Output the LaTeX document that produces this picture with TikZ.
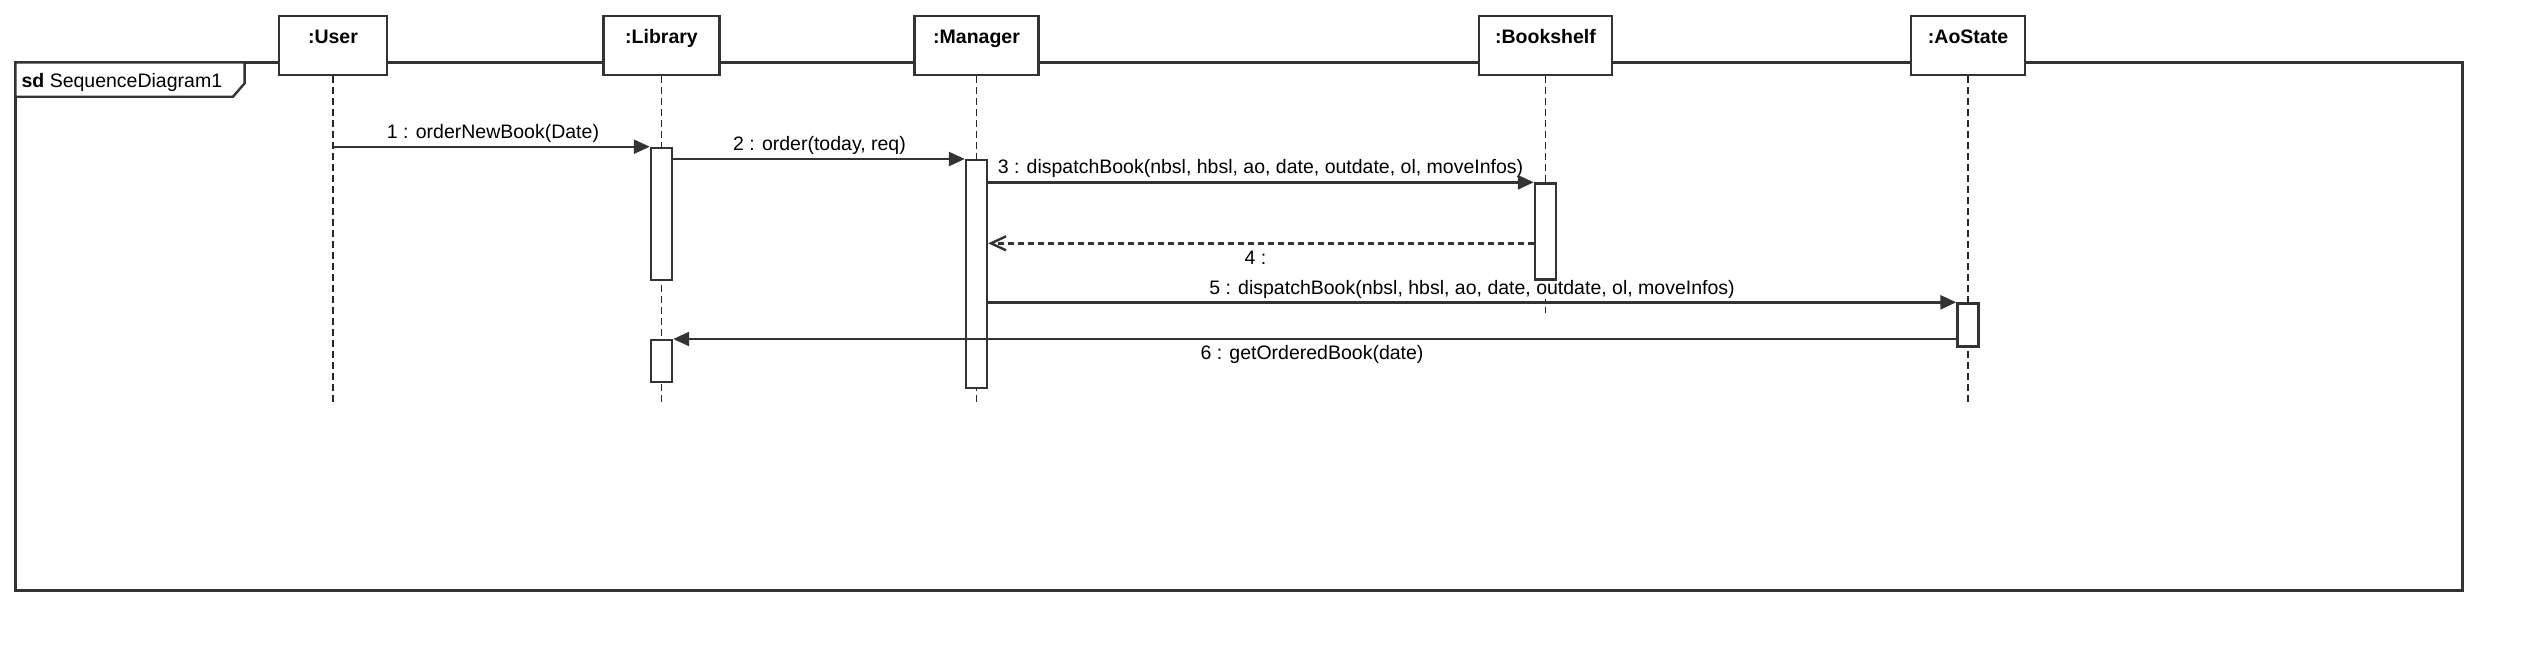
\documentclass[tikz,border=0pt]{standalone}
\usepackage{fontspec}
\setmainfont{Liberation Sans}
\usetikzlibrary{arrows.meta}
\begin{document}
\begin{tikzpicture}[x=1pt,y=-1pt,
  every node/.style={font=\fontsize{19.5}{23}\selectfont},
  ln/.style={draw=black!80, line width=2.4pt},
  headbox/.style={ln, fill=white, inner xsep=0pt, inner ysep=0pt, text height=27pt, text depth=32pt, font=\fontsize{19.5}{23}\selectfont\bfseries, anchor=north},
  life/.style={draw=black!85, line width=1.8pt, dash pattern=on 7pt off 4pt},
  actbox/.style={ln, fill=white, minimum width=21pt, inner sep=0pt, anchor=north},
  msg/.style={ln, -{Triangle[length=16pt,width=14pt]}},
  retmsg/.style={ln, dash pattern=on 6pt off 4pt, -{Straight Barb[length=15pt,width=14pt]}},
  lbl/.style={anchor=base, fill=white, inner xsep=2pt, inner ysep=1pt}
]
\useasboundingbox (0,0) rectangle (2523,651);
% frame
\draw[ln] (15.5,62.5) rectangle (2462.5,590.5);
\draw[ln, fill=white] (15.5,62.5) -- (244.6,62.5) -- (244.6,83.3) -- (233,96.7) -- (15.5,96.7) -- cycle;
\node[anchor=base west, inner sep=0pt] (sdlbl) at (21.4,87) {\textbf{sd} SequenceDiagram1};
% lifeline ends
\coordinate (userend) at (333,405);
\coordinate (libend) at (661.5,405);
\coordinate (mgrend) at (976.5,405);
\coordinate (bksend) at (1545.5,313);
\coordinate (aosend) at (1968,402);
% heads
\node[headbox, minimum width=108.5pt] (user) at (333,15) {:User};
\node[headbox, minimum width=116pt] (library) at (661.5,15) {:Library};
\node[headbox, minimum width=124pt] (manager) at (976.5,15) {:Manager};
\node[headbox, minimum width=133pt] (bookshelf) at (1545.5,15) {:Bookshelf};
\node[headbox, minimum width=114pt] (aostate) at (1968,15) {:AoState};
% lifelines
\draw[life] (user.south) -- (userend);
\draw[life] (library.south) -- (libend);
\draw[life] (manager.south) -- (mgrend);
\draw[life] (bookshelf.south) -- (bksend);
\draw[life] (aostate.south) -- (aosend);
% labels
\node[lbl] (l1) at (493,138.5) {1 : orderNewBook(Date)};
\node[lbl] (l2) at (819.5,150) {2 : order(today, req)};
\node[lbl] (l3) at (1260.5,173.5) {3 : dispatchBook(nbsl, hbsl, ao, date, outdate, ol, moveInfos)};
\node[lbl] (l4) at (1255.5,264) {4 :};
\node[lbl] (l5) at (1472,294) {5 : dispatchBook(nbsl, hbsl, ao, date, outdate, ol, moveInfos)};
\node[lbl] (l6) at (1312,359) {6 : getOrderedBook(date)};
% activations
\node[actbox, minimum height=132.3pt] (lib1) at (661.5,146.7) {};
\node[actbox, minimum height=228pt] (mgr) at (976.5,159) {};
\node[actbox, minimum height=96pt] (bks) at (1545.5,182.3) {};
\node[actbox, minimum height=43pt] (aos) at (1968,302.3) {};
\node[actbox, minimum height=42pt] (lib2) at (661.5,339) {};
% messages
\coordinate (r4) at (0,243.3);
\draw[msg] (user.south |- lib1.north west) -- (lib1.north west);
\draw[msg] (lib1.east |- mgr.north west) -- (mgr.north west);
\draw[msg] (mgr.east |- bks.north west) -- (bks.north west);
\draw[retmsg] (bks.west |- r4) -- (mgr.east |- r4);
\draw[msg] (mgr.east |- aos.north west) -- (aos.north west);
\draw[msg] (aos.west |- lib2.north east) -- (lib2.north east);
\end{tikzpicture}
\end{document}
